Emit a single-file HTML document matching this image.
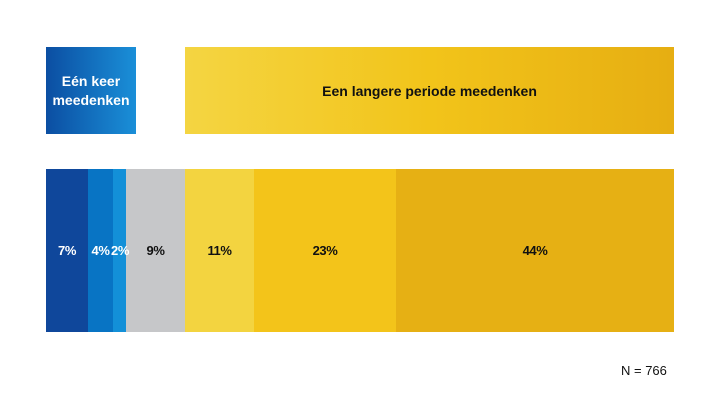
<!DOCTYPE html>
<html><head><meta charset="utf-8"><style>
body{margin:0;width:720px;height:405px;background:#fff;position:relative;font-family:"Liberation Sans","DejaVu Sans",sans-serif;overflow:hidden}
div.a{position:absolute}
.s{position:absolute;top:169px;height:163px;display:flex;align-items:center;justify-content:center;font-size:13px;font-weight:bold;white-space:nowrap;letter-spacing:-0.4px}
</style></head><body>
<div class="a" style="left:46px;top:47px;width:90px;height:87px;background:linear-gradient(90deg,#0b4ea2,#1a8fd8);color:#fff;font-weight:bold;font-size:14px;line-height:19px;display:flex;align-items:center;justify-content:center;text-align:center">Eén keer<br>meedenken</div>
<div class="a" style="left:185px;top:47px;width:489px;height:87px;background:linear-gradient(90deg,#f4d542,#f2c41a 50%,#e6ae12);display:flex;align-items:center;justify-content:center;font-weight:bold;font-size:14px;color:#111">Een langere periode meedenken</div>
<div class="s" style="left:46px;width:42px;background:#0f479b;color:#fff">7%</div>
<div class="s" style="left:88px;width:25px;background:#0874c4;color:#fff">4%</div>
<div class="s" style="left:113px;width:13px;background:#1390d8;"></div>
<div class="s" style="left:126px;width:59px;background:#c6c7c9;color:#111">9%</div>
<div class="s" style="left:185px;width:69px;background:#f3d440;color:#111">11%</div>
<div class="s" style="left:254px;width:142px;background:#f3c41a;color:#111">23%</div>
<div class="s" style="left:396px;width:278px;background:#e6b014;color:#111">44%</div>
<div class="s" style="left:110px;width:20px;color:#fff;background:none">2%</div>
<div class="a" style="left:621px;top:363px;font-size:13px;color:#111">N = 766</div>
</body></html>
